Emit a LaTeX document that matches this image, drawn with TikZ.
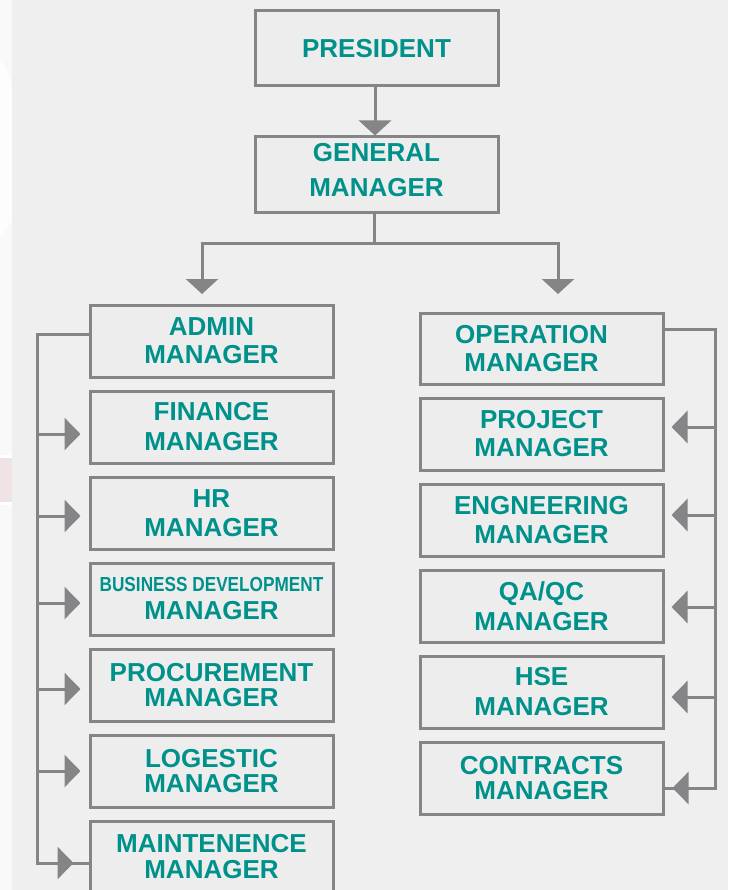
\documentclass[tikz,border=0pt]{standalone}
\usepackage{fontspec}
\setmainfont{Liberation Sans}
\usetikzlibrary{arrows.meta}
\definecolor{bgc}{HTML}{EFEFEF}
\definecolor{boxc}{HTML}{EDEDED}
\definecolor{linec}{HTML}{858588}
\definecolor{teal}{HTML}{00918B}
\tikzset{
  orgbox/.style={draw=linec, line width=3pt, fill=boxc, rectangle,
    minimum width=243pt, minimum height=72pt, inner sep=0pt, align=center,
    text=teal, font=\bfseries\fontsize{26}{28}\selectfont},
  conn/.style={draw=linec, line width=3pt},
  arrd/.style={conn, -{Triangle[width=32pt,length=15pt]}},
  arrh/.style={conn, -{Triangle[width=32pt,length=16pt]}},
}
\begin{document}
\begin{tikzpicture}[x=1pt,y=-1pt]
\useasboundingbox (0,0) rectangle (728,890);
\begin{scope}
\clip (0,0) rectangle (728,890);
\fill[bgc] (0,0) rectangle (728,890);
\fill[white!60!bgc] (0,0) rectangle (12,890);
\fill[white!85!bgc] (0,60) .. controls (8,70) and (12,80) .. (12,90) -- (12,220) .. controls (8,228) and (4,234) .. (0,240) -- cycle;
\fill[white] (0,455) rectangle (12,505);
\fill[red!5!bgc] (0,458) rectangle (12,502);

% boxes
\node[orgbox, minimum height=75pt] (pres) at (376.5,48.5) {PRESIDENT};
\node[orgbox, minimum height=76pt, text depth=10pt, font=\bfseries\fontsize{26}{35}\selectfont] (gm) at (376.5,175) {GENERAL\\MANAGER};

\node[orgbox] (admin) at (211.5,341) {ADMIN\\MANAGER};
\node[orgbox, font=\bfseries\fontsize{26}{30}\selectfont] (fin) at (211.5,427) {FINANCE\\MANAGER};
\node[orgbox, font=\bfseries\fontsize{26}{29}\selectfont] (hr) at (211.5,513) {HR\\MANAGER};
\node[orgbox] (bd) at (211.5,599) {\fontsize{18.5}{28}\selectfont\scalebox{0.93}[1.1]{BUSINESS DEVELOPMENT}\\MANAGER};
\node[orgbox, font=\bfseries\fontsize{26}{25}\selectfont] (proc) at (211.5,685) {PROCUREMENT\\MANAGER};
\node[orgbox, font=\bfseries\fontsize{26}{25}\selectfont] (log) at (211.5,771) {LOGESTIC\\MANAGER};
\node[orgbox, font=\bfseries\fontsize{26}{26}\selectfont] (maint) at (211.5,857) {MAINTENENCE\\MANAGER};

\node[orgbox, minimum height=71pt] (op) at (541.5,348.5) {OPERATION\hspace*{20pt}\\MANAGER\hspace*{20pt}};
\node[orgbox] (proj) at (541.5,434) {PROJECT\\MANAGER};
\node[orgbox, font=\bfseries\fontsize{26}{29}\selectfont] (eng) at (541.5,520) {ENGNEERING\\MANAGER};
\node[orgbox, font=\bfseries\fontsize{26}{30}\selectfont] (qa) at (541.5,606) {QA/QC\\MANAGER};
\node[orgbox, font=\bfseries\fontsize{26}{30}\selectfont] (hse) at (541.5,692) {HSE\\MANAGER};
\node[orgbox, font=\bfseries\fontsize{26}{25}\selectfont] (con) at (541.5,778) {CONTRACTS\\MANAGER};

% top connectors
\draw[arrd] (pres.south -| 375,0) -- (gm.north -| 375,0);
\coordinate (split) at (374,244);
\coordinate (tipL) at (202,294);
\coordinate (tipR) at (558,294);
\draw[conn] (gm.south -| split) -- (split);
\draw[arrd] (split) -| (tipL);
\draw[arrd] (split) -| (tipR);

% left bus
\coordinate (lbusTop) at (37,334);
\coordinate (lbusBot) at (37,863);
\draw[conn] (admin.west |- lbusTop) -- (lbusTop) -- (lbusBot) -- (maint.west |- lbusBot);
\path ([xshift=-8pt,yshift=-7pt]fin.west) coordinate (tF);
\path ([xshift=-8pt,yshift=-3pt]hr.west) coordinate (tH);
\path ([xshift=-8pt,yshift=-4pt]bd.west) coordinate (tB);
\path ([xshift=-8pt,yshift=-4pt]proc.west) coordinate (tP);
\path ([xshift=-8pt]log.west) coordinate (tL);
\path ([xshift=-15pt,yshift=-6pt]maint.west) coordinate (tM);
\foreach \t in {tF,tH,tB,tP,tL,tM}
  \draw[arrh] (lbusTop |- \t) -- (\t);

% right bus
\coordinate (rbusTop) at (715,329);
\coordinate (rbusBot) at (715,788);
\draw[conn] (op.east |- rbusTop) -- (rbusTop) -- (rbusBot) -- (con.east |- rbusBot);
\path ([xshift=7pt,yshift=7pt]proj.east) coordinate (sP);
\path ([xshift=7pt,yshift=5pt]eng.east) coordinate (sE);
\path ([xshift=7pt,yshift=-1pt]qa.east) coordinate (sQ);
\path ([xshift=7pt,yshift=-5pt]hse.east) coordinate (sH);
\path ([xshift=8pt,yshift=-10pt]con.east) coordinate (sC);
\foreach \t in {sP,sE,sQ,sH,sC}
  \draw[arrh] (rbusTop |- \t) -- (\t);
\end{scope}
\end{tikzpicture}
\end{document}
